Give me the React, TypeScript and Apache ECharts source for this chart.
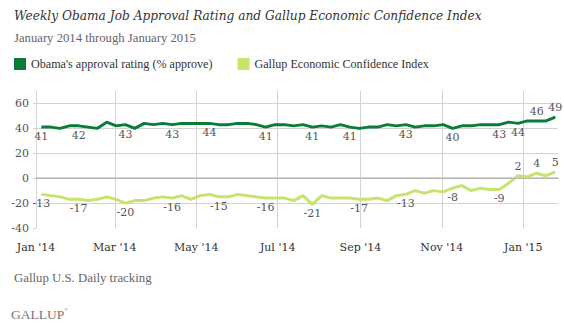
import React, { useEffect, useRef } from 'react';
import * as echarts from 'echarts';

const weekDates: string[] = [
  '2014-01-05', '2014-01-12', '2014-01-19', '2014-01-26',
  '2014-02-02', '2014-02-09', '2014-02-16', '2014-02-23',
  '2014-03-02', '2014-03-09', '2014-03-16', '2014-03-23', '2014-03-30',
  '2014-04-06', '2014-04-13', '2014-04-20', '2014-04-27',
  '2014-05-04', '2014-05-11', '2014-05-18', '2014-05-25',
  '2014-06-01', '2014-06-08', '2014-06-15', '2014-06-22', '2014-06-29',
  '2014-07-06', '2014-07-13', '2014-07-20', '2014-07-27',
  '2014-08-03', '2014-08-10', '2014-08-17', '2014-08-24', '2014-08-31',
  '2014-09-07', '2014-09-14', '2014-09-21', '2014-09-28',
  '2014-10-05', '2014-10-12', '2014-10-19', '2014-10-26',
  '2014-11-02', '2014-11-09', '2014-11-16', '2014-11-23', '2014-11-30',
  '2014-12-07', '2014-12-14', '2014-12-21', '2014-12-28',
  '2015-01-04', '2015-01-11', '2015-01-18', '2015-01-25',
];

const approval: number[] = [
  41, 41, 40, 42, 42, 41, 40, 45, 42, 43, 40, 44, 43, 44, 43, 44, 44, 44, 44, 43,
  43, 44, 44, 43, 41, 43, 43, 42, 43, 41, 42, 41, 43, 41, 40, 41, 41, 43, 42, 43,
  41, 42, 42, 43, 40, 42, 42, 43, 43, 43, 45, 44, 46, 46, 46, 49,
];

const confidence: number[] = [
  -13, -14, -15, -17, -17, -18, -17, -15, -17, -20, -18, -18, -16, -15, -16, -14, -17, -14, -13, -15,
  -15, -13, -14, -15, -16, -16, -16, -18, -14, -21, -14, -16, -16, -16, -17, -17, -16, -18, -14, -13,
  -10, -12, -10, -11, -8, -6, -10, -8, -9, -9, -4, 2, 1, 4, 2, 5,
];

const approvalLabelIdx: number[] = [0, 4, 9, 14, 18, 24, 29, 33, 39, 44, 49, 51, 53, 55];
const confidenceLabelIdx: number[] = [0, 4, 9, 14, 19, 24, 29, 34, 39, 44, 49, 51, 53, 55];

const yTicks = { min: -40, max: 70, interval: 20 };
const monthNames: string[] = ['Jan', 'Feb', 'Mar', 'Apr', 'May', 'Jun', 'Jul', 'Aug', 'Sep', 'Oct', 'Nov', 'Dec'];

const titleText = 'Weekly Obama Job Approval Rating and Gallup Economic Confidence Index';
const subtitleText = 'January 2014 through January 2015';
const seriesNames: string[] = ["Obama's approval rating (% approve)", 'Gallup Economic Confidence Index'];
const sourceText = 'Gallup U.S. Daily tracking';

const DARK = '#0a7c37';
const LIGHT = '#c6e46c';
const FONT = 'DejaVu Serif';
const TEXTFONT = 'Liberation Serif';

function buildData(values: number[], labelIdx: number[], threshold: number) {
  return values.map((v, i) => {
    const item: any = { value: [weekDates[i], v] };
    if (labelIdx.indexOf(i) >= 0) {
      item.label = { show: true, position: v >= threshold ? 'top' : 'bottom' };
    }
    return item;
  });
}

export default function App() {
  const ref = useRef<HTMLDivElement>(null);
  useEffect(() => {
    if (!ref.current) return;
    const chart = echarts.init(ref.current, undefined, { renderer: 'svg' });
    const labelStyle = {
      show: false,
      fontFamily: FONT,
      fontSize: 11,
      color: '#555',
      distance: 4,
    };
    chart.setOption({
      animation: false,
      backgroundColor: '#fff',
      textStyle: { fontFamily: FONT },
      title: [
        {
          text: titleText,
          left: 9,
          top: 5,
          textStyle: { fontFamily: FONT, fontStyle: 'italic', fontWeight: 'normal', fontSize: 12.2, color: '#333' },
        },
        {
          text: subtitleText,
          left: 9,
          top: 26,
          textStyle: { fontFamily: TEXTFONT, fontWeight: 'normal', fontSize: 12.7, color: '#666' },
        },
        {
          text: sourceText,
          left: 9,
          top: 266,
          textStyle: { fontFamily: TEXTFONT, fontWeight: 'normal', fontSize: 12.8, color: '#666' },
        },
        {
          text: 'GALLUP{r|®}',
          left: 6,
          top: 302,
          textStyle: {
            fontFamily: TEXTFONT, fontWeight: 'normal', fontSize: 13.5, color: '#777',
            rich: { r: { fontSize: 5, color: '#777', verticalAlign: 'top', padding: [0, 0, 6, 0] } },
          },
        },
      ],
      legend: {
        left: 9,
        top: 53,
        itemWidth: 12,
        itemHeight: 12,
        itemGap: 25,
        icon: 'rect',
        textStyle: { fontFamily: TEXTFONT, fontSize: 12.1, color: '#333' },
        data: seriesNames,
      },
      grid: { left: 36, right: 6, top: 91, bottom: 96, containLabel: false },
      xAxis: {
        type: 'time',
        min: '2014-01-01',
        max: '2015-01-27',
        axisLine: { show: true, lineStyle: { color: '#d0d0d0', width: 2 } },
        axisTick: { show: false },
        splitLine: { show: true, showMaxLine: false, lineStyle: { color: '#d3d3d3', width: 1 } },
        axisLabel: {
          fontFamily: FONT,
          fontSize: 11,
          color: '#333',
          margin: 14,
          hideOverlap: true,
          formatter: (val: number) => {
            const d = new Date(val);
            if (d.getDate() !== 1 || d.getMonth() % 2 !== 0) return '';
            return monthNames[d.getMonth()] + " '" + String(d.getFullYear()).slice(2);
          },
        },
      },
      yAxis: {
        type: 'value',
        min: yTicks.min,
        max: yTicks.max,
        interval: yTicks.interval,
        axisLine: { show: false },
        axisTick: { show: true, length: 3, lineStyle: { color: '#d3d3d3' } },
        splitLine: { show: true, showMinLine: false, showMaxLine: false, lineStyle: { color: '#d3d3d3', width: 1 } },
        axisLabel: {
          fontFamily: FONT,
          fontSize: 11,
          color: '#555',
          margin: 7,
          showMaxLabel: false,
        },
      },
      series: [
        {
          name: seriesNames[0],
          type: 'line',
          data: buildData(approval, approvalLabelIdx, 46),
          color: DARK,
          lineStyle: { color: DARK, width: 3 },
          symbol: 'circle',
          symbolSize: 0,
          showSymbol: true,
          showAllSymbol: true,
          label: labelStyle,
          z: 3,
          markLine: {
            silent: true,
            symbol: 'none',
            label: { show: false },
            lineStyle: { color: '#b8b8b8', type: 'solid', width: 1 },
            data: [{ yAxis: 0 }],
          },
        },
        {
          name: seriesNames[1],
          type: 'line',
          data: buildData(confidence, confidenceLabelIdx, 0),
          color: LIGHT,
          lineStyle: { color: LIGHT, width: 3 },
          symbol: 'circle',
          symbolSize: 0,
          showSymbol: true,
          showAllSymbol: true,
          label: labelStyle,
          z: 3,
        },
      ],
    });
    return () => chart.dispose();
  }, []);
  return <div ref={ref} style={{ width: 564, height: 324, position: 'absolute', left: 0, top: 0 }} />;
}
